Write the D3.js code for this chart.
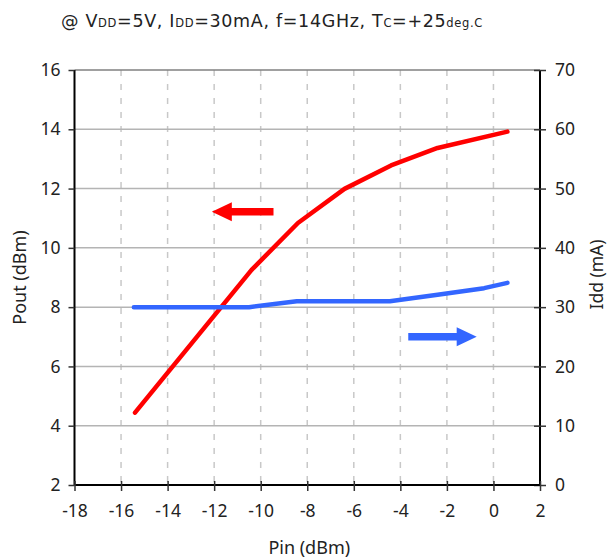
<!DOCTYPE html>
<html>
<head>
<meta charset="utf-8">
<script src="https://cdn.jsdelivr.net/npm/d3@7"></script>
<style>
  body { margin: 0; background: #fff; }
  svg { display: block; font-family: "Noto Sans", "Open Sans", sans-serif; }
</style>
</head>
<body>
<svg id="chart" width="609" height="560"></svg>
<script>
// ---- data ----
const pinRed  = [-15.4, -10.4, -8.4, -6.4, -4.4, -2.4, 0.6];
const pout    = [4.44, 9.25, 10.84, 11.99, 12.78, 13.37, 13.92];
const pinBlue = [-15.45, -10.5, -8.45, -4.45, -2.4, -0.4, 0.6];
const idd     = [30.0, 30.0, 31.0, 31.0, 32.1, 33.2, 34.1];
const xTicks  = [-18, -16, -14, -12, -10, -8, -6, -4, -2, 0, 2];
const yTicks  = [2, 4, 6, 8, 10, 12, 14, 16];
const y2Ticks = [0, 10, 20, 30, 40, 50, 60, 70];
// arrow annotations (data units): [tailPin, tipPin, level]
const redArrow  = [-9.45, -12.1, 11.22];
const blueArrow = [-3.66, -0.72, 25.0];

const svg = d3.select("#chart");
const L = 74.5, R = 540, T = 70, B = 485;
const x  = d3.scaleLinear().domain([-18, 2]).range([L, R]);
const y  = d3.scaleLinear().domain([2, 16]).range([B, T]);
const y2 = d3.scaleLinear().domain([0, 70]).range([B, T]);

// vertical dashed grid
svg.append("g").selectAll("line").data(xTicks.slice(1, -1)).join("line")
  .attr("x1", d => x(d)).attr("x2", d => x(d)).attr("y1", T).attr("y2", B)
  .attr("stroke", "#c8c8c8").attr("stroke-width", 1.5).attr("stroke-dasharray", "6,8");

// horizontal solid grid
svg.append("g").selectAll("line").data(yTicks.slice(1)).join("line")
  .attr("x1", L).attr("x2", R).attr("y1", d => y(d)).attr("y2", d => y(d))
  .attr("stroke", d => d === 16 ? "#808080" : "#b4b4b4").attr("stroke-width", 1.5);

// axes
const fs = 17.5;
const gL = svg.append("g").attr("transform", `translate(${L},0)`)
  .call(d3.axisLeft(y).tickValues(yTicks).tickSize(6).tickPadding(8).tickFormat(d3.format("d")));
const gR = svg.append("g").attr("transform", `translate(${R},0)`)
  .call(d3.axisRight(y2).tickValues(y2Ticks).tickSize(6).tickPadding(9).tickFormat(d3.format("d")));
const gB = svg.append("g").attr("transform", `translate(0,${B})`)
  .call(d3.axisBottom(x).tickValues(xTicks).tickSize(6).tickPadding(14).tickFormat(d => d));
gB.selectAll(".tick line").attr("y1", -4);
gR.selectAll(".tick line").attr("x1", -6);
[gL, gR, gB].forEach(g => {
  g.select(".domain").attr("stroke", "#000").attr("stroke-width", 2);
  g.selectAll(".tick line").attr("stroke", "#333").attr("stroke-width", 1.5);
  g.selectAll(".tick text").attr("font-size", fs).attr("fill", "#222")
    .attr("font-family", "'Noto Sans', sans-serif");
});
gL.select(".domain").attr("d", `M0,${T}V${B}`);
gR.select(".domain").attr("d", `M0,${T}V${B}`);
gB.select(".domain").attr("d", `M${L},0H${R}`);

// axis titles
const afs = 18;
svg.append("text").attr("x", (L + R) / 2 + 2).attr("y", 554).attr("text-anchor", "middle")
  .attr("font-size", afs).attr("fill", "#222").text("Pin (dBm)");
svg.append("text").attr("transform", `translate(26,${(T + B) / 2}) rotate(-90)`)
  .attr("text-anchor", "middle").attr("font-size", afs).attr("fill", "#222").text("Pout (dBm)");
svg.append("text").attr("transform", `translate(603,${(T + B) / 2 - 3}) rotate(-90)`)
  .attr("text-anchor", "middle").attr("font-size", 17.5).attr("fill", "#222").text("Idd (mA)");

// title
const title = svg.append("text").attr("x", 61).attr("y", 27).attr("font-size", 17.5)
  .attr("fill", "#222").attr("font-family", "'DejaVu Sans', sans-serif")
  .attr("letter-spacing", 0.6).attr("textLength", 422).attr("lengthAdjust", "spacing");
const parts = [["@ V", 0], ["DD", 1], ["=5V, I", 0], ["DD", 1], ["=30mA, f=14GHz, T", 0], ["C", 1], ["=+25", 0], ["deg.C", 1]];
parts.forEach(([t, sub]) => title.append("tspan").attr("font-size", sub ? 11.5 : 17.5).text(t));

// lines
const line = (xs, ys, ys2) => d3.line().x((d, i) => x(xs[i])).y((d, i) => ys2(ys[i]));
svg.append("path").datum(pout).attr("d", line(pinRed, pout, y))
  .attr("fill", "none").attr("stroke", "#ff0000").attr("stroke-width", 4.5)
  .attr("stroke-linecap", "round").attr("stroke-linejoin", "round");
svg.append("path").datum(idd).attr("d", line(pinBlue, idd, y2))
  .attr("fill", "none").attr("stroke", "#3366ff").attr("stroke-width", 4.5)
  .attr("stroke-linecap", "round").attr("stroke-linejoin", "round");

// arrows
function arrow(a, yScale, color) {
  const x0 = x(a[0]), x1 = x(a[1]), yy = yScale(a[2]);
  const dir = Math.sign(x1 - x0);
  const headLen = 20, headHalf = 9.5, shaftHalf = 3.7;
  const xb = x1 - dir * headLen;
  const p = d3.path();
  p.moveTo(x0, yy - shaftHalf); p.lineTo(xb, yy - shaftHalf); p.lineTo(xb, yy - headHalf);
  p.lineTo(x1, yy); p.lineTo(xb, yy + headHalf); p.lineTo(xb, yy + shaftHalf);
  p.lineTo(x0, yy + shaftHalf); p.closePath();
  svg.append("path").attr("d", p.toString()).attr("fill", color);
}
arrow(redArrow, y, "#ff0000");
arrow(blueArrow, y2, "#3366ff");
</script>
</body>
</html>
